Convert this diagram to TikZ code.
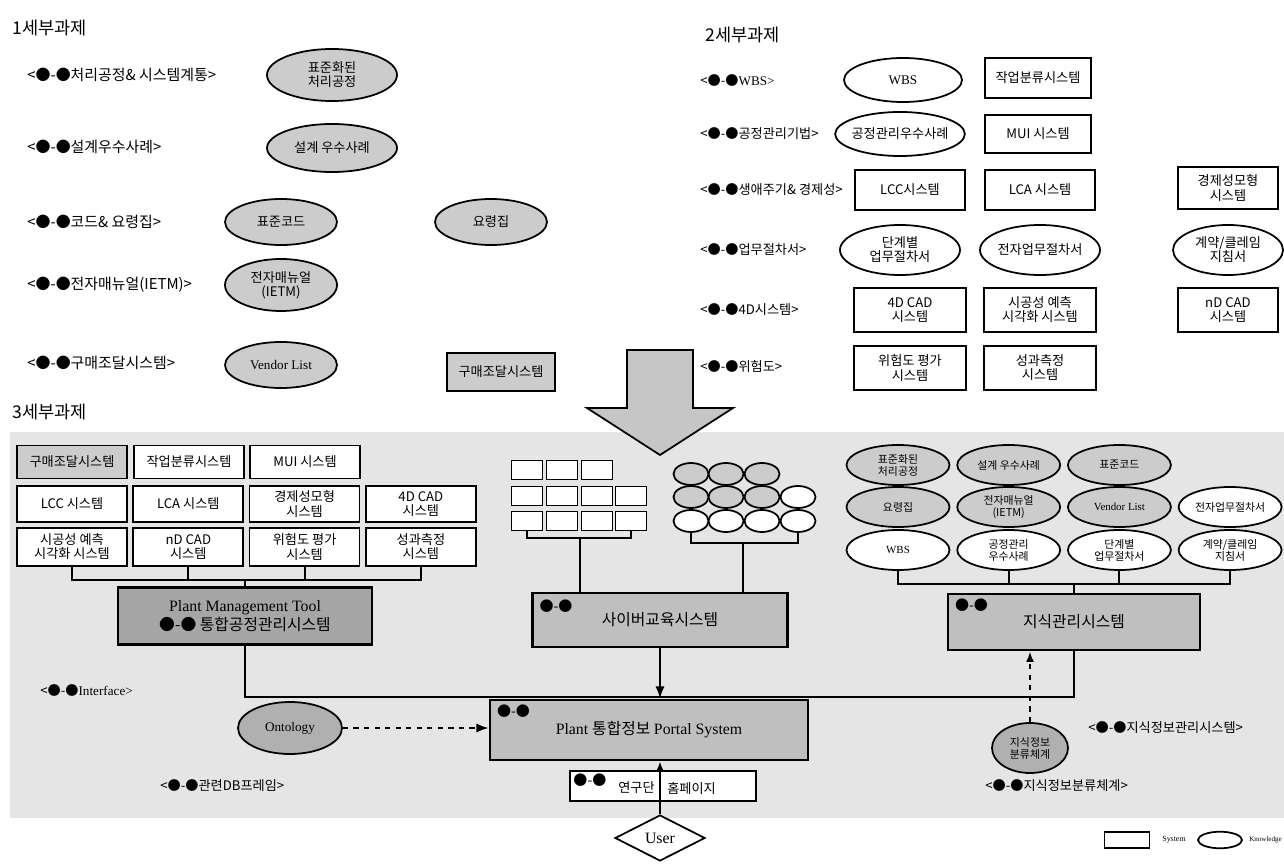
\documentclass[tikz,border=0pt]{standalone}
\usepackage{fontspec}
\setmainfont{Noto Sans CJK KR}
\newfontfamily\lat{Liberation Serif}
\usetikzlibrary{arrows.meta,positioning,shapes.geometric}

\tikzset{
  px/.style 2 args={minimum width=#1*0.02cm, minimum height=#2*0.02cm},
  sysbox/.style={draw, line width=1pt, fill=white, inner sep=1pt, align=center,
    font=\fontsize{7.5}{8}\selectfont},
  knowbox/.style={sysbox, ellipse, inner sep=-1.5pt},
  knowsm/.style={knowbox, font=\fontsize{6.2}{6.8}\selectfont},
  dim/.style={fill=gray!40},
  plain/.style={fill=white},
  dark/.style={fill=gray!62},
  mainbox/.style={draw, line width=1.5pt, fill=gray!50, inner sep=2pt, align=center,
    font=\fontsize{9}{11}\selectfont},
  icon/.style={inner sep=0pt, font=\fontsize{8}{8}\selectfont},
  lbl/.style={anchor=west, inner sep=0pt, font=\fontsize{7.5}{8}\selectfont},
  hdr/.style={anchor=west, inner sep=0pt, font=\fontsize{10}{11}\selectfont},
  bus/.style={line width=1.2pt},
}

\begin{document}
\begin{tikzpicture}[x=0.02cm, y=-0.02cm]
  \useasboundingbox (0,0) rectangle (1284,864);
  % shaded area of task 3
  \fill[gray!20] (10,432) rectangle (1284,818);

  \node[hdr] (h1) at (12,28) {1세부과제};
  \node[hdr] (h2) at (705,35) {2세부과제};
  \node[hdr] (h3) at (12,412) {3세부과제};

  % task 1
  \node[lbl, font=\fontsize{8.5}{9}\selectfont] (l11) at (27,75) {<●-●처리공정\& 시스템계통>};
  \node[lbl, font=\fontsize{8.5}{9}\selectfont] (l12) at (27,147) {<●-●설계우수사례>};
  \node[lbl, font=\fontsize{8.5}{9}\selectfont] (l13) at (27,222) {<●-●코드\& 요령집>};
  \node[lbl, font=\fontsize{8.5}{9}\selectfont] (l14) at (27,285) {<●-●전자매뉴얼(IETM)>};
  \node[lbl, font=\fontsize{8.5}{9}\selectfont] (l15) at (27,363) {<●-●구매조달시스템>};
  \node[knowbox, dim, px={130}{52}] (e11) at (332,75) {표준화된\\처리공정};
  \node[knowbox, dim, px={130}{48}] (e12) at (332,148) {설계 우수사례};
  \node[knowbox, dim, px={112}{46}] (e13) at (281,222) {표준코드};
  \node[knowbox, dim, px={112}{46}] (e14) at (491,222) {요령집};
  \node[knowbox, dim, px={112}{52}] (e15) at (281,285) {전자매뉴얼\\(IETM)};
  \node[knowbox, dim, px={112}{46}] (e16) at (281,365) {\lat Vendor List};
  \node[sysbox, dim, px={108}{38}] (s11) at (501,372) {구매조달시스템};

  % task 2
  \node[lbl] (l21) at (700,80) {<●-●\lat WBS>};
  \node[lbl] (l22) at (700,134) {<●-●공정관리기법>};
  \node[lbl] (l23) at (700,190) {<●-●생애주기\& 경제성>};
  \node[lbl] (l24) at (700,250) {<●-●업무절차서>};
  \node[lbl] (l25) at (700,310) {<●-●4D시스템>};
  \node[lbl] (l26) at (700,367) {<●-●위험도>};
  \node[knowbox, px={118}{44}] (e21) at (903,80) {\lat WBS};
  \node[sysbox, px={106}{40}] (s21) at (1038,78) {작업분류시스템};
  \node[knowbox, px={122}{44}] (e22) at (900,134) {공정관리우수사례};
  \node[sysbox, px={106}{38}] (s22) at (1038,134) {MUI 시스템};
  \node[sysbox, px={110}{40}] (s23) at (910,190) {LCC시스템};
  \node[sysbox, px={110}{40}] (s24) at (1040,190) {LCA 시스템};
  \node[sysbox, px={100}{42}] (s25) at (1228,188) {경제성모형\\시스템};
  \node[knowbox, px={120}{50}] (e23) at (900,250) {단계별\\업무절차서};
  \node[knowbox, px={120}{50}] (e24) at (1040,250) {전자업무절차서};
  \node[knowbox, px={110}{50}] (e25) at (1228,250) {계약/클레임\\지침서};
  \node[sysbox, px={112}{44}] (s26) at (910,310) {4D CAD\\시스템};
  \node[sysbox, px={112}{44}] (s27) at (1040,310) {시공성 예측\\시각화 시스템};
  \node[sysbox, px={100}{44}] (s28) at (1228,310) {nD CAD\\시스템};
  \node[sysbox, px={112}{44}] (s29) at (910,368) {위험도 평가\\시스템};
  \node[sysbox, px={112}{44}] (s2a) at (1040,368) {성과측정\\시스템};

  % merge arrow
  \draw[line width=1pt, fill=gray!45] (627,350) -- (693,350) -- (693,408) -- (733,408)
    -- (660,455) -- (587,408) -- (627,408) -- cycle;

  % task 3 -- plant management tool
  \node[sysbox, dim, px={110}{33}] (p11) at (72,462) {구매조달시스템};
  \node[sysbox, px={110}{33}] (p12) at (189,462) {작업분류시스템};
  \node[sysbox, px={110}{33}] (p13) at (305,462) {MUI 시스템};
  \foreach \t [count=\i] in {LCC 시스템, LCA 시스템, {경제성모형\\시스템}, {4D CAD\\시스템}}
    \node[sysbox, px={110}{36}] (p2\i) at ({72+116.3*(\i-1)},504) {\t};
  \foreach \t [count=\i] in {{시공성 예측\\시각화 시스템}, {nD CAD\\시스템}, {위험도 평가\\시스템}, {성과측정\\시스템}}
    \node[sysbox, px={110}{38}] (p3\i) at ({72+116.3*(\i-1)},547) {\t};
  \node[mainbox, fill=gray!70, px={254}{57}] (pmt) at (245,616) {\lat Plant Management Tool\\●-● 통합공정관리시스템};
  \coordinate (lbus) at (245,580);
  \draw[bus] (p31.south) |- (p34.south |- lbus) -- (p34.south);
  \draw[bus] (p32.south) -- (p32.south |- lbus);
  \draw[bus] (p33.south) -- (p33.south |- lbus);
  \draw[bus] (lbus) -- (pmt.north);

  % task 3 -- cyber education
  \foreach \x [count=\c] in {527,562,597,631}{
    \foreach \y [count=\r] in {470,496,521}{
      \ifnum\c\r=41\relax\else
        \node[sysbox, px={31}{19}] (sq\r\c) at (\x,\y) {};
      \fi}}
  \foreach \x [count=\c] in {691,726,762,798}{
    \foreach \y/\f [count=\r] in {474/dim,497/dim,521/plain}{
      \ifnum\c\r=41\relax\else
        \ifnum\c\r=42\relax
          \node[knowbox, px={35}{22}] (ci\r\c) at (\x,\y) {};
        \else
          \node[knowbox, \f, px={35}{22}] (ci\r\c) at (\x,\y) {};
        \fi
      \fi}}
  \node[mainbox, px={255}{54}] (cyber) at (660,620) {사이버교육시스템};
  \node[icon, anchor=north west] (cyi) at ([shift={(8,8)}]cyber.north west) {●-●};
  \coordinate (mbus1) at (580,538);
  \coordinate (mbus2) at (743,543);
  \draw[bus] (sq31.south) |- (sq34.south |- mbus1) -- (sq34.south);
  \draw[bus] (mbus1) -- (mbus1 |- cyber.north);
  \draw[bus] (ci31.south) |- (ci34.south |- mbus2) -- (ci34.south);
  \draw[bus] (mbus2) -- (mbus2 |- cyber.north);

  % task 3 -- knowledge management
  \foreach \t/\f [count=\i] in {{표준화된\\처리공정}/dim, {설계 우수사례}/dim, 표준코드/dim}
    \node[knowsm, \f, px={103}{40}] (k1\i) at ({898+110.7*(\i-1)},465) {\t};
  \foreach \t/\f [count=\i] in {요령집/dim, {전자매뉴얼\\(IETM)}/dim, {\lat Vendor List}/dim, 전자업무절차서/plain}
    \node[knowsm, \f, px={103}{40}] (k2\i) at ({898+110.7*(\i-1)},507) {\t};
  \foreach \t [count=\i] in {{\lat WBS}, {공정관리\\우수사례}, {단계별\\업무절차서}, {계약/클레임\\지침서}}
    \node[knowsm, px={103}{40}] (k3\i) at ({898+110.7*(\i-1)},550) {\t};
  \node[mainbox, px={252}{56}] (km) at (1074,622) {지식관리시스템};
  \node[icon, anchor=north west] (kmi) at ([shift={(8,6)}]km.north west) {●-●};
  \coordinate (rbus) at (1074,584);
  \draw[bus] (k31.south) |- (k34.south |- rbus) -- (k34.south);
  \draw[bus] (k32.south) -- (k32.south |- rbus);
  \draw[bus] (k33.south) -- (k33.south |- rbus);
  \draw[bus] (rbus) -- (km.north);

  % portal
  \node[mainbox, px={318}{60}] (portal) at (649,730) {\lat Plant \normalfont 통합정보 \lat Portal System};
  \node[icon, anchor=north west] (poi) at ([shift={(8,6)}]portal.north west) {●-●};
  \coordinate (jn) at (660,697);
  \draw[bus] (pmt.south) |- (km.south |- jn) -- (km.south);
  \draw[bus, -{Latex[length=7pt]}] (cyber.south -| jn) -- (jn |- portal.north);

  \node[knowbox, dark, px={104}{52}] (onto) at (290,728) {\lat Ontology};
  \draw[line width=1.2pt, dashed, -{Latex[length=7pt]}] (onto) -- (onto -| portal.west);
  \node[lbl] (lif) at (40,690) {<●-●\lat Interface>};
  \node[lbl] (ldb) at (160,786) {<●-●관련DB프레임>};

  \node[knowbox, dark, px={76}{50}, font=\fontsize{6.2}{6.8}\selectfont] (kmc) at (1030,748) {지식정보\\분류체계};
  \draw[line width=1.2pt, dashed, -{Latex[length=6pt]}] (kmc.north) -- (kmc.north |- km.south);
  \node[lbl] (lkms) at (1088,728) {<●-●지식정보관리시스템>};
  \node[lbl] (lkmc) at (985,786) {<●-●지식정보분류체계>};

  % homepage and user
  \node[sysbox, px={186}{30}] (home) at (663,786) {};
  \node[icon, anchor=north west] (hoi) at ([shift={(4,3)}]home.north west) {●-●};
  \node[lbl, anchor=east] (homel) at (655,788) {연구단};
  \node[lbl] (homer) at (667,788) {홈페이지};
  \node[draw, diamond, aspect=2, line width=1pt, fill=white, inner sep=0pt, px={90}{46},
    font=\lat\fontsize{9}{10}\selectfont] (user) at (660,838) {User};
  \draw[bus, -{Latex[length=5pt]}] (user.north) -- (user.north |- portal.south);

  % legend
  \node[sysbox, px={45}{16}] (legs) at (1127,840) {};
  \node[font=\lat\fontsize{4.5}{5}\selectfont, inner sep=0pt] (legst) at (1174,840) {System};
  \node[draw, ellipse, line width=1pt, px={44}{15}] (lege) at (1220,840) {};
  \node[font=\lat\fontsize{4}{5}\selectfont, inner sep=0pt, anchor=west] (leget) at (1249,840) {Knowledge};
\end{tikzpicture}
\end{document}
